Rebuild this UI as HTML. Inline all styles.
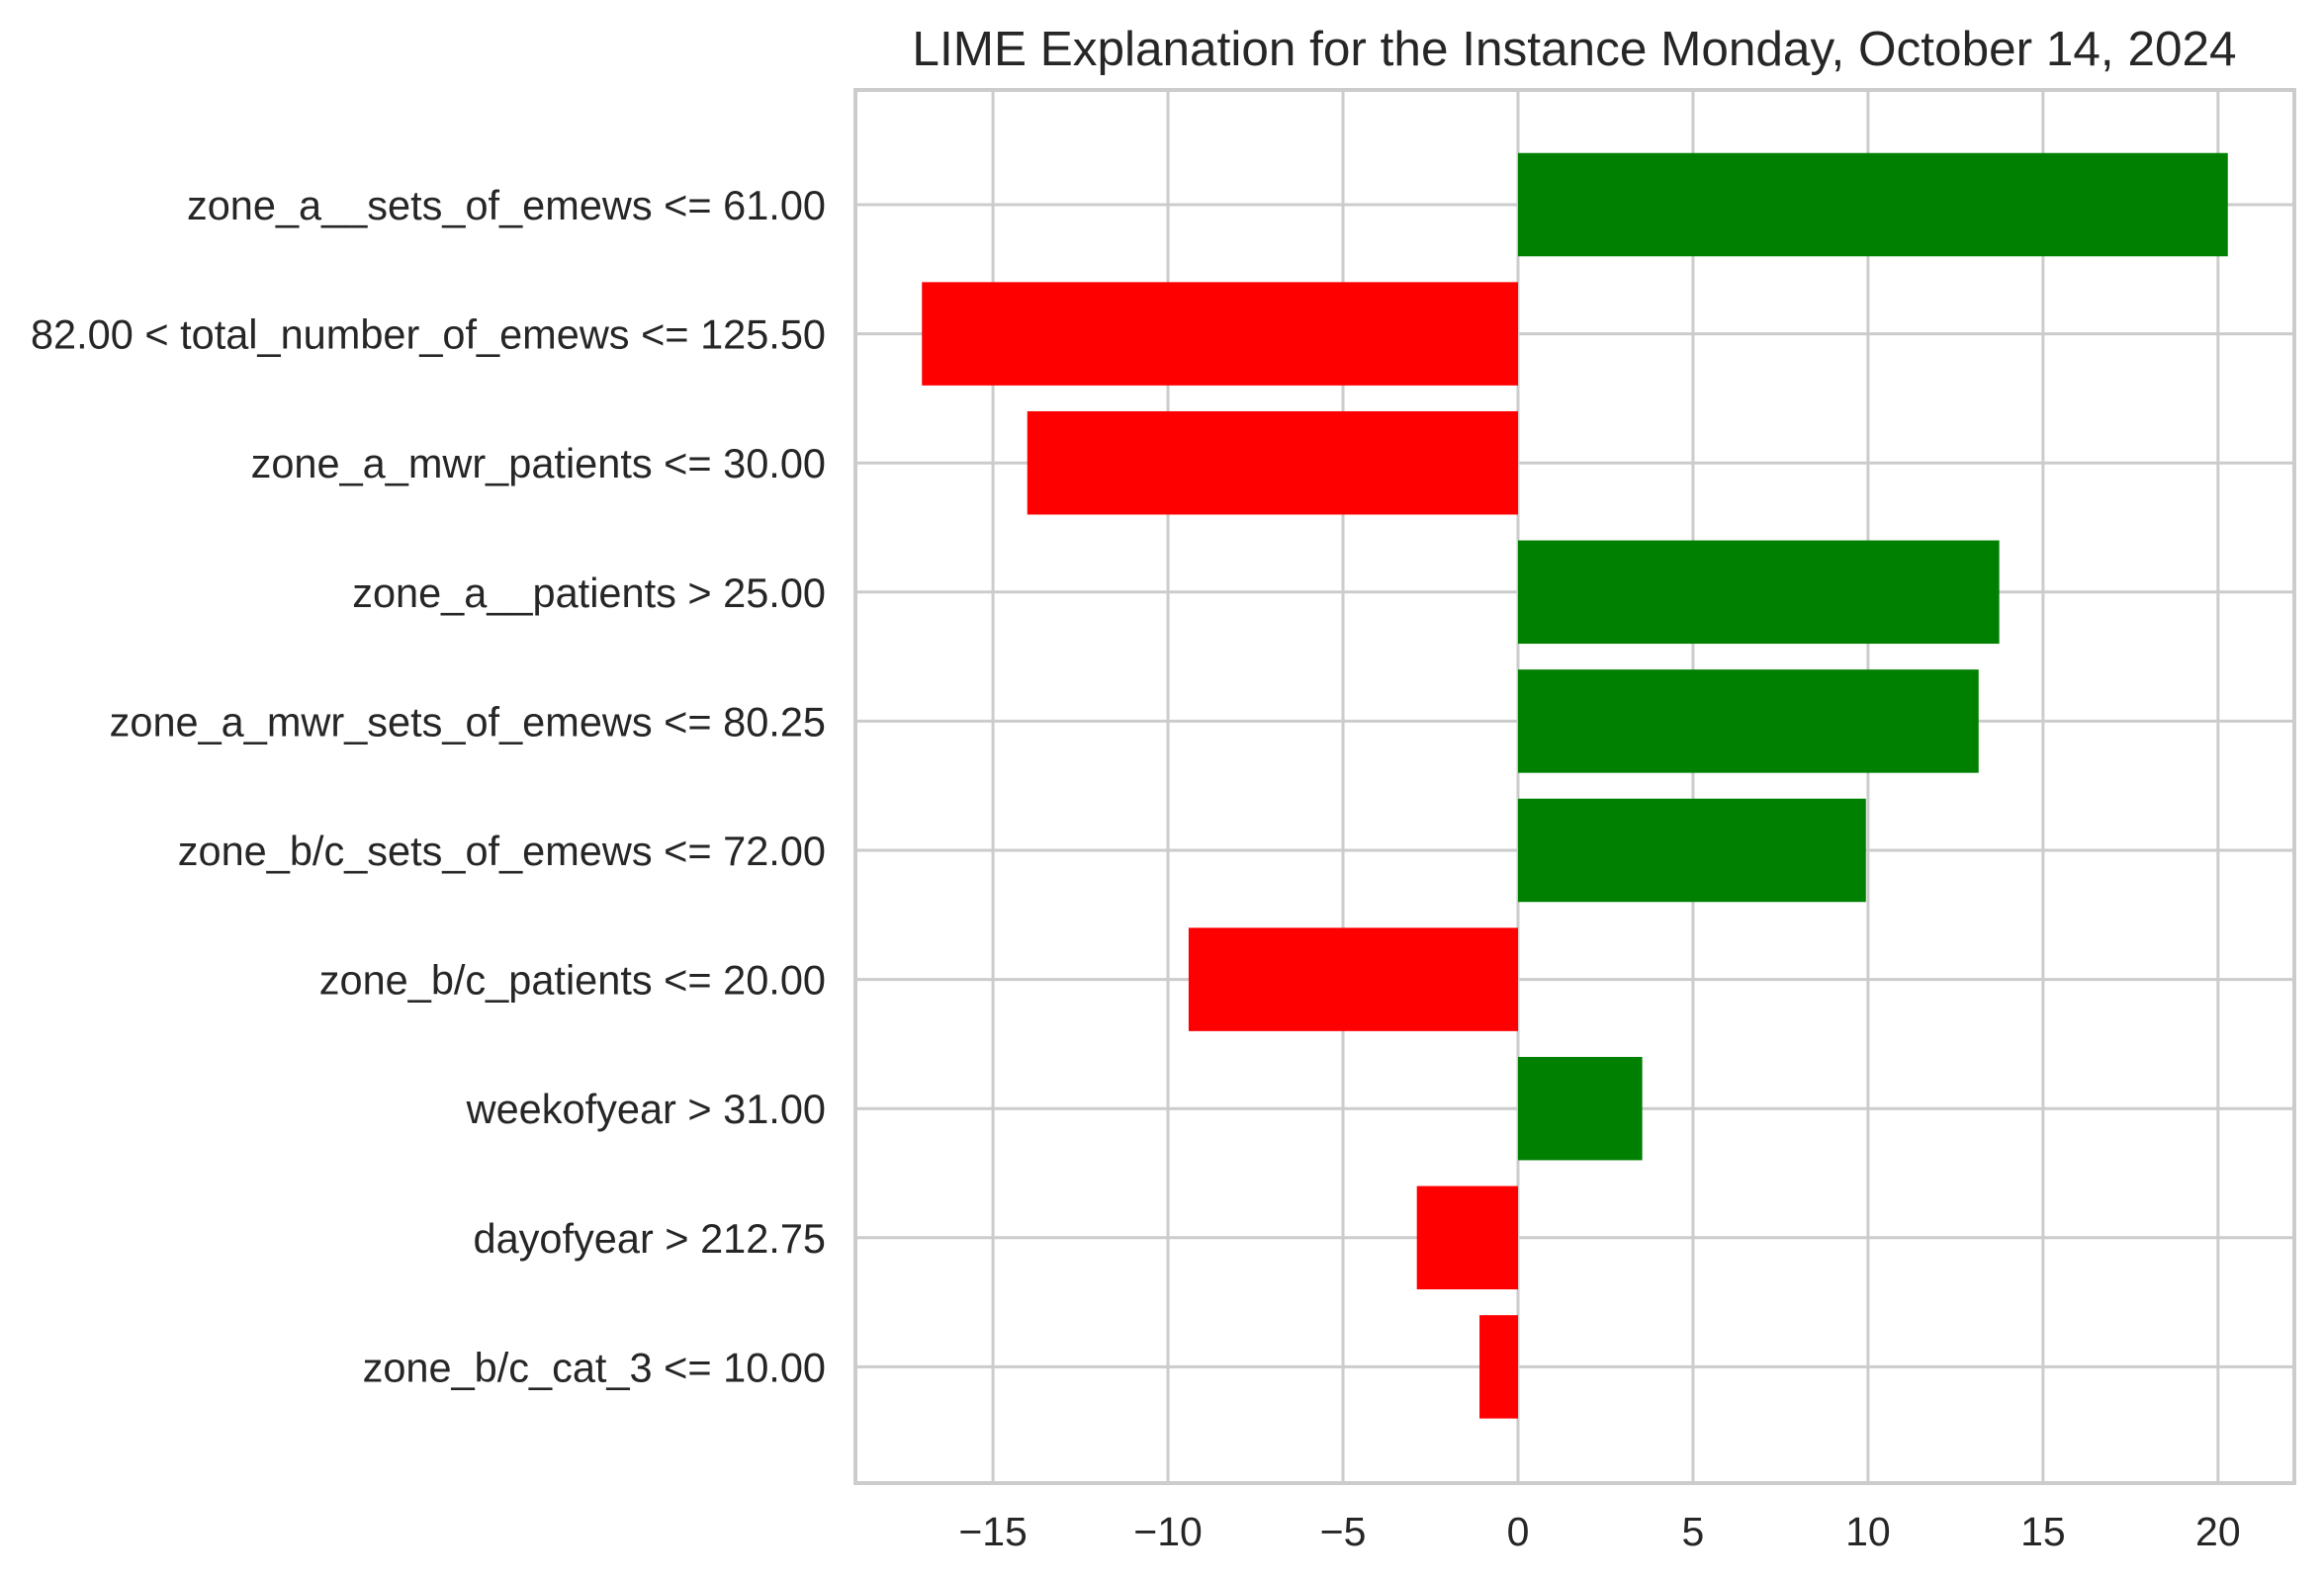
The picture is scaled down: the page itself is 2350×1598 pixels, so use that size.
<!DOCTYPE html>
<html><head><meta charset="utf-8"><style>
html,body{margin:0;padding:0;background:#fff;}
svg{display:block;}
text{font-family:"Liberation Sans",Arial,sans-serif;fill:#262626;}
</style></head><body>
<svg id="chart" width="2350" height="1598" xmlns="http://www.w3.org/2000/svg">
<text x="1592" y="66" font-size="49.5" text-anchor="middle">LIME Explanation for the Instance Monday, October 14, 2024</text>
<g id="grid"></g>
<g id="bars"></g>
<g id="spines"></g>
<g id="labels"></g>
</svg>
<script>
const features = ["zone_a__sets_of_emews <= 61.00","82.00 < total_number_of_emews <= 125.50","zone_a_mwr_patients <= 30.00","zone_a__patients > 25.00","zone_a_mwr_sets_of_emews <= 80.25","zone_b/c_sets_of_emews <= 72.00","zone_b/c_patients <= 20.00","weekofyear > 31.00","dayofyear > 212.75","zone_b/c_cat_3 <= 10.00"];
const weights = [20.28, -17.03, -14.02, 13.75, 13.16, 9.94, -9.41, 3.55, -2.89, -1.1];
const xTicks = [-15, -10, -5, 0, 5, 10, 15, 20];
const xTickLabels = ["\u221215","\u221210","\u22125","0","5","10","15","20"];

const NS = "http://www.w3.org/2000/svg";
const L = 865, R = 2320, T = 91, B = 1500;
const xMin = -18.93, xMax = 22.18;
function xs(v){ return L + (v - xMin) / (xMax - xMin) * (R - L); }
const rowStep = 130.6, row0 = 207;
function ys(i){ return row0 + i * rowStep; }
const barH = 0.8 * rowStep;

function mk(tag, attrs, parent){
  const e = document.createElementNS(NS, tag);
  for (const k in attrs) e.setAttribute(k, attrs[k]);
  parent.appendChild(e);
  return e;
}
const grid = document.getElementById('grid');
const bars = document.getElementById('bars');
const spines = document.getElementById('spines');
const labels = document.getElementById('labels');

xTicks.forEach((t, i) => {
  const ln = mk('line', {x1: xs(t), x2: xs(t), y1: T, y2: B, stroke: '#cccccc', 'stroke-width': 3}, grid);
  
  
  const tx = mk('text', {x: xs(t), y: 1563, 'font-size': 41, 'text-anchor': 'middle'}, labels);
  tx.textContent = xTickLabels[i];
  
  
});
features.forEach((f, i) => {
  const ln = mk('line', {x1: L, x2: R, y1: ys(i), y2: ys(i), stroke: '#cccccc', 'stroke-width': 3}, grid);
  
  
});
weights.forEach((w, i) => {
  const x0 = xs(Math.min(0, w)), x1 = xs(Math.max(0, w));
  const r = mk('rect', {x: x0, y: ys(i) - barH / 2, width: x1 - x0, height: barH, fill: w >= 0 ? '#008000' : '#ff0000'}, bars);
  
  
  const tx = mk('text', {x: 835, y: ys(i) + 15, 'font-size': 41.5, 'text-anchor': 'end'}, labels);
  tx.textContent = features[i];
  
  
});
const sp = mk('rect', {x: L, y: T, width: R - L, height: B - T, fill: 'none', stroke: '#cccccc', 'stroke-width': 4}, spines);


</script>
</body></html>
